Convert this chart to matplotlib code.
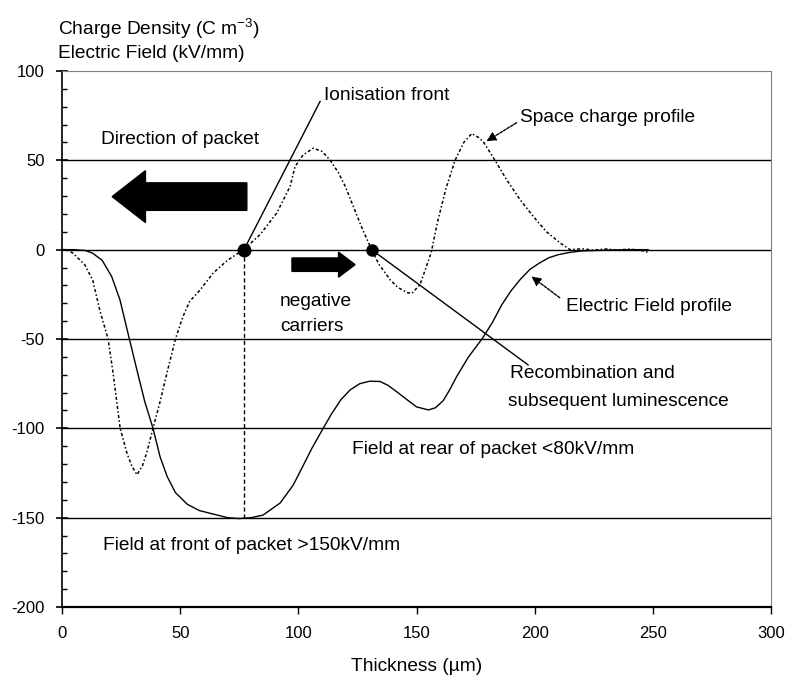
import matplotlib
matplotlib.use("Agg")
import matplotlib.pyplot as plt
from matplotlib.patches import FancyArrow
from matplotlib.ticker import MultipleLocator

plt.rcParams["font.family"] = ["Liberation Sans", "DejaVu Sans"]
plt.rcParams["mathtext.fontset"] = "custom"
plt.rcParams["mathtext.rm"] = "Liberation Sans"
plt.rcParams["axes.unicode_minus"] = False

# electric field profile (kV/mm)
field_x = [0, 5, 10, 13, 17, 21, 24.5, 28.5, 32, 35, 38.5, 41.5, 44.5, 48, 53, 58,
           65.5, 70, 75, 80, 85, 92.3, 97.8, 101.6, 105.8, 110.5, 114, 118, 121.9, 126,
           130.3, 134.6, 138, 141.8, 146, 150, 155, 158, 161.3, 164, 167, 172, 177.7, 182,
           186, 190, 194, 198, 202, 206, 210, 215, 220, 230, 240, 248]
field_y = [0, 0, -0.5, -2, -6, -15, -28, -50, -69, -85, -100, -116, -127, -136, -142.5, -146,
           -148.5, -150, -150.5, -150, -148.6, -141.8, -131.8, -122, -111, -100, -92, -84, -78.5, -75,
           -73.6, -73.8, -76, -79.7, -84, -88, -89.7, -88.5, -84.5, -78.5, -71, -60, -50, -41,
           -31, -23, -16.5, -11, -7.5, -4.5, -2.8, -1.5, -0.7, -0.3, 0, 0]

# space charge profile
charge_x = [0, 2, 4.7, 9.7, 13, 16, 19.5, 21.6, 24.6, 27.5, 29.5, 31.7, 34, 36, 38.5, 41.5,
            44.4, 48, 51, 54, 58.4, 64, 70, 76.8, 83.8, 90.9, 96.5, 98.6, 102, 106.3, 110,
            113.5, 117, 120, 123, 126.8, 131, 134, 138.8, 142, 145.9, 148, 151.5, 156.2,
            158.8, 162.3, 166.3, 170, 173.4, 176, 178.2, 183.2, 188.2, 193.8, 199.4, 205,
            210.8, 215, 220, 225, 230, 235, 240, 245, 248]
charge_y = [0, 0, -2, -8.6, -17, -34, -50, -69, -100, -114, -121, -126, -121, -113, -100, -85,
            -69, -50, -38, -29, -22.6, -13, -6, 0, 8.4, 20.6, 35.4, 46.5, 53, 56.8, 55,
            50, 43, 35, 25, 12.5, 0, -8, -16.8, -21, -24, -24.5, -19.5, -1.7,
            15, 33.5, 50, 60, 65, 63, 60.5, 50, 39, 28, 18.6, 10,
            3.7, 0, 0.5, -0.3, 0.4, -0.2, 0.3, -0.4, -1.5]

front_x = 77
field_min = -150
recomb_x = 131
grid_levels = [50, 0, -50, -100, -150]

fig = plt.figure(figsize=(7.9, 6.84), dpi=100)
ax = fig.add_axes([0.0785, 0.1126, 0.8975, 0.7836])

for g in grid_levels:
    ax.axhline(g, color="black", lw=1.0, zorder=1)

ax.plot(field_x, field_y, color="black", lw=1.0, zorder=3)
ax.plot(charge_x, charge_y, color="black", lw=1.1, ls=(0, (2, 1.5, 1, 1.5)), zorder=3)

ax.plot([front_x, front_x], [0, field_min], color="black", lw=1.0, ls=(0, (3, 2)), zorder=3)
ax.plot([front_x], [0], "o", color="black", ms=9, zorder=4)
ax.plot([recomb_x], [0], "o", color="black", ms=8, zorder=4)

# pointer lines
ax.plot([front_x, 109.2], [0, 83], color="black", lw=1.0)
ax.plot([recomb_x, 197.2], [0, -64.5], color="black", lw=1.0)
ax.annotate("", xy=(179.6, 60.7), xytext=(192.3, 71),
            arrowprops=dict(arrowstyle="-|>", color="black", lw=1.0, ls=(0, (2, 1)),
                            mutation_scale=14, shrinkA=0, shrinkB=0))
ax.annotate("", xy=(198.6, -15), xytext=(210.6, -26.9),
            arrowprops=dict(arrowstyle="-|>", color="black", lw=1.0, ls=(0, (2, 1)),
                            mutation_scale=14, shrinkA=0, shrinkB=0))

# block arrows
ax.add_patch(FancyArrow(78.2, 29.7, -57, 0, width=15.4, head_width=29, head_length=14.1,
                        length_includes_head=True, color="black", zorder=4))
ax.add_patch(FancyArrow(97.3, -8.4, 26.7, 0, width=7.5, head_width=14, head_length=7,
                        length_includes_head=True, color="black", zorder=4))

fs = 13.8
ax.text(110.9, 86.5, "Ionisation front", fontsize=fs, va="center")
ax.text(193.7, 73.8, "Space charge profile", fontsize=fs, va="center")
ax.text(16.3, 61.7, "Direction of packet", fontsize=fs, va="center")
ax.text(92.3, -29, "negative", fontsize=fs, va="center")
ax.text(92.3, -43, "carriers", fontsize=fs, va="center")
ax.text(213.4, -31.8, "Electric Field profile", fontsize=fs, va="center")
ax.text(189.5, -69.1, "Recombination and", fontsize=fs, va="center")
ax.text(188.6, -85, "subsequent luminescence", fontsize=fs, va="center")
ax.text(122.7, -112, "Field at rear of packet <80kV/mm", fontsize=fs, va="center")
ax.text(17.5, -165.4, "Field at front of packet >150kV/mm", fontsize=fs, va="center")

fig.text(58 / 790, 1 - 35 / 684, r"Charge Density (C m$^{-3}$)", fontsize=fs, va="baseline")
fig.text(58 / 790, 1 - 58 / 684, "Electric Field (kV/mm)", fontsize=fs, va="baseline")

ax.set_xlim(0, 300)
ax.set_ylim(-200, 100)
ax.xaxis.set_major_locator(MultipleLocator(50))
ax.yaxis.set_major_locator(MultipleLocator(50))
ax.yaxis.set_minor_locator(MultipleLocator(10))
ax.tick_params(axis="y", which="major", direction="inout", length=9, width=1.2,
               labelsize=12, pad=8)
ax.tick_params(axis="y", which="minor", direction="in", length=3.5, width=1.0)
ax.tick_params(axis="x", which="major", direction="out", length=5, width=1.0,
               labelsize=12, pad=9)
ax.set_xlabel("Thickness (\u00b5m)", fontsize=fs, labelpad=12)

ax.spines["top"].set_color("#808080")
ax.spines["right"].set_color("#808080")
ax.spines["left"].set_linewidth(1.2)
ax.spines["bottom"].set_linewidth(1.6)

fig.savefig("out.png", dpi=100)
